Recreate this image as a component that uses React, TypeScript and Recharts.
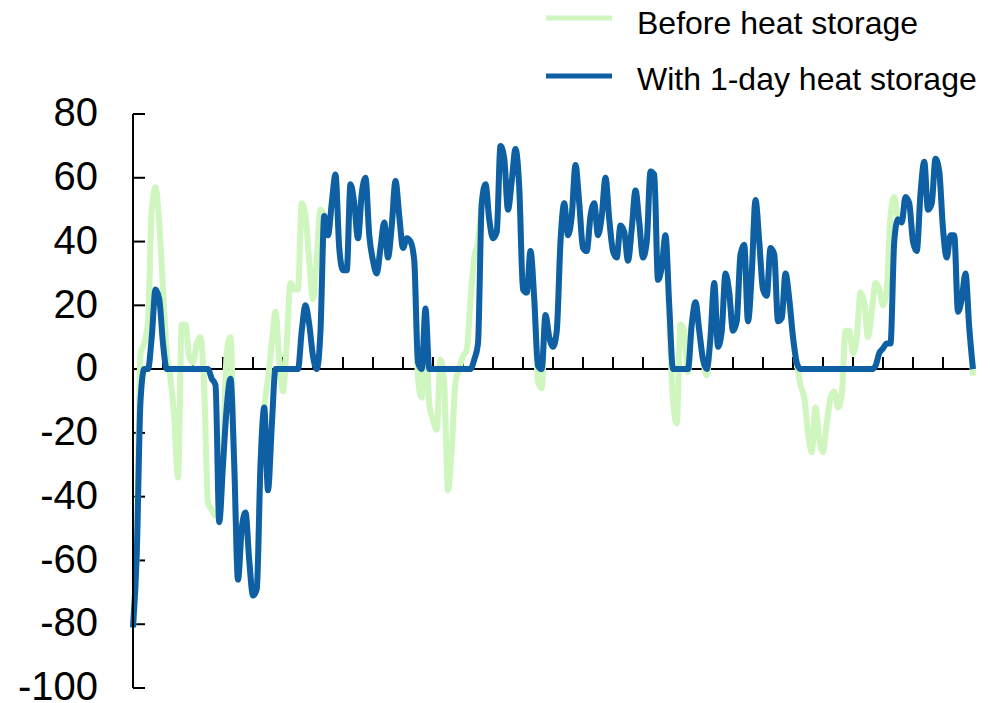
import { LineChart, Line, XAxis, YAxis, ReferenceLine } from "recharts";

// Hourly heat balance, one value per time step (224 steps, tick every 8)
const beforeStorage = [
  -81, -58, 5, 8, 15, 50, 57, 46,
  25, 5, -3, -15, -34, 14, 14, 4,
  2, 8, 10, -6, -42, -44, -46, -46,
  -25, 5, 10, -30, -66, -50, -45, -60,
  -71, -69, -30, -12, -3, 8, 18, 3,
  -7, 8, 27, 25, 25, 52, 48, 34,
  22, 35, 50, 48, 42, 52, 61, 38,
  31, 31, 58, 52, 41, 55, 60, 42,
  34, 30, 38, 46, 35, 45, 59, 48,
  38, 41, 40, 34, -3, -9, 15, -11,
  -16, -19, 3, -5, -38, -25, -4, 0,
  4, 6, 22, 35, 40, 52, 58, 47,
  41, 43, 70, 66, 50, 59, 69, 57,
  25, 24, 37, 22, -4, -6, 17, 10,
  7, 12, 40, 52, 42, 48, 64, 52,
  38, 37, 48, 52, 42, 48, 60, 47,
  37, 35, 45, 43, 34, 44, 56, 46,
  35, 40, 62, 61, 28, 32, 42, 15,
  -10, -17, 14, 12, -1, 14, 21, 12,
  3, -2, 10, 27, 7, 12, 30, 24,
  12, 15, 36, 39, 15, 30, 53, 40,
  25, 23, 38, 36, 15, 16, 30, 22,
  10, 2, -5, -9, -20, -26, -12, -22,
  -26, -17, -9, -7, -12, -8, 12, 12,
  5, 10, 24, 21, 10, 18, 27, 25,
  20, 25, 48, 54, 47, 46, 54, 52,
  40, 37, 55, 65, 50, 52, 66, 62,
  44, 35, 42, 42, 18, 22, 30, 13,
  -2,
];

const withStorage = [
  -81, -58, -10, 0, 0, 10, 25, 22,
  8, 0, 0, 0, 0, 0, 0, 0,
  0, 0, 0, 0, 0, -3, -5, -48,
  -30, -12, -3, -30, -66, -50, -45, -60,
  -71, -69, -30, -12, -38, -18, 0, 0,
  0, 0, 0, 0, 0, 12, 20, 14,
  4, 0, 12, 48, 42, 52, 61, 38,
  31, 31, 58, 52, 41, 55, 60, 42,
  34, 30, 38, 46, 35, 45, 59, 48,
  38, 41, 40, 34, 2, 0, 19, 0,
  0, 0, 0, 0, 0, 0, 0, 0,
  0, 0, 0, 3, 8, 52, 58, 47,
  41, 43, 70, 66, 50, 59, 69, 57,
  25, 24, 37, 22, 1, 0, 17, 10,
  7, 12, 40, 52, 42, 48, 64, 52,
  38, 37, 48, 52, 42, 48, 60, 47,
  37, 35, 45, 43, 34, 44, 56, 46,
  35, 40, 62, 61, 28, 32, 42, 20,
  0, 0, 0, 0, 0, 14, 21, 12,
  3, 0, 10, 27, 7, 12, 30, 24,
  12, 15, 36, 39, 15, 30, 53, 40,
  25, 23, 38, 36, 15, 16, 30, 22,
  10, 2, 0, 0, 0, 0, 0, 0,
  0, 0, 0, 0, 0, 0, 0, 0,
  0, 0, 0, 0, 0, 0, 1, 5,
  6.5, 8, 8, 40, 47, 46, 54, 52,
  40, 37, 55, 65, 50, 52, 66, 62,
  44, 35, 42, 42, 18, 22, 30, 13,
  0,
];

const Y_TICKS = [-100, -80, -60, -40, -20, 0, 20, 40, 60, 80];
const X_TICKS = [
  8, 16, 24, 32, 40, 48, 56, 64, 72, 80, 88, 96, 104, 112,
  120, 128, 136, 144, 152, 160, 168, 176, 184, 192, 200, 208, 216,
];

const FONT = "'Liberation Sans', Arial, sans-serif";
const GREEN = "#cff6bf";
const BLUE = "#0f5fa5";

const data = withStorage.map((v, i) => ({
  step: i,
  before: beforeStorage[i],
  storage: v,
}));

function LegendBox() {
  return (
    <svg
      width={450}
      height={100}
      style={{ position: "absolute", left: 540, top: 0 }}
    >
      <line x1={6} x2={72} y1={18} y2={18} stroke={GREEN} strokeWidth={5} />
      <text x={97} y={33.5} fontSize={32} fontFamily={FONT} fill="#000">
        Before heat storage
      </text>
      <line x1={6} x2={72} y1={76} y2={76} stroke={BLUE} strokeWidth={5} />
      <text x={97} y={89.5} fontSize={32} fontFamily={FONT} fill="#000">
        With 1-day heat storage
      </text>
    </svg>
  );
}

export default function App() {
  return (
    <div
      style={{
        position: "absolute",
        left: 0,
        top: 0,
        width: 990,
        height: 703,
        overflow: "hidden",
        background: "#fff",
        fontFamily: FONT,
      }}
    >
      {/* taller than the frame so the -100 label is not clipped */}
      <LineChart
        width={990}
        height={740}
        data={data}
        margin={{ top: 114, right: 17, bottom: 52, left: 0 }}
      >
        <XAxis dataKey="step" type="number" domain={[0, 224]} hide />
        <YAxis
          type="number"
          domain={[-100, 80]}
          ticks={Y_TICKS}
          interval={0}
          width={133}
          tickLine={false}
          tickSize={0}
          tickMargin={35}
          axisLine={{ stroke: "#000", strokeWidth: 2 }}
          tick={{ fill: "#000", fontSize: 40, fontFamily: FONT, dy: -2 }}
        />
        {Y_TICKS.map((v) => (
          <ReferenceLine
            key={`y${v}`}
            segment={[
              { x: 0, y: v },
              { x: 3.2, y: v },
            ]}
            stroke="#000"
            strokeWidth={2}
          />
        ))}
        <ReferenceLine y={0} stroke="#000" strokeWidth={2} />
        {X_TICKS.map((t) => (
          <ReferenceLine
            key={`x${t}`}
            segment={[
              { x: t, y: 0 },
              { x: t, y: 3.8 },
            ]}
            stroke="#000"
            strokeWidth={2}
          />
        ))}
        <Line
          type="monotone"
          dataKey="before"
          stroke={GREEN}
          strokeWidth={6}
          strokeLinejoin="round"
          dot={false}
          isAnimationActive={false}
        />
        <Line
          type="monotone"
          dataKey="storage"
          stroke={BLUE}
          strokeWidth={6}
          strokeLinejoin="round"
          dot={false}
          isAnimationActive={false}
        />
      </LineChart>
      <LegendBox />
    </div>
  );
}
